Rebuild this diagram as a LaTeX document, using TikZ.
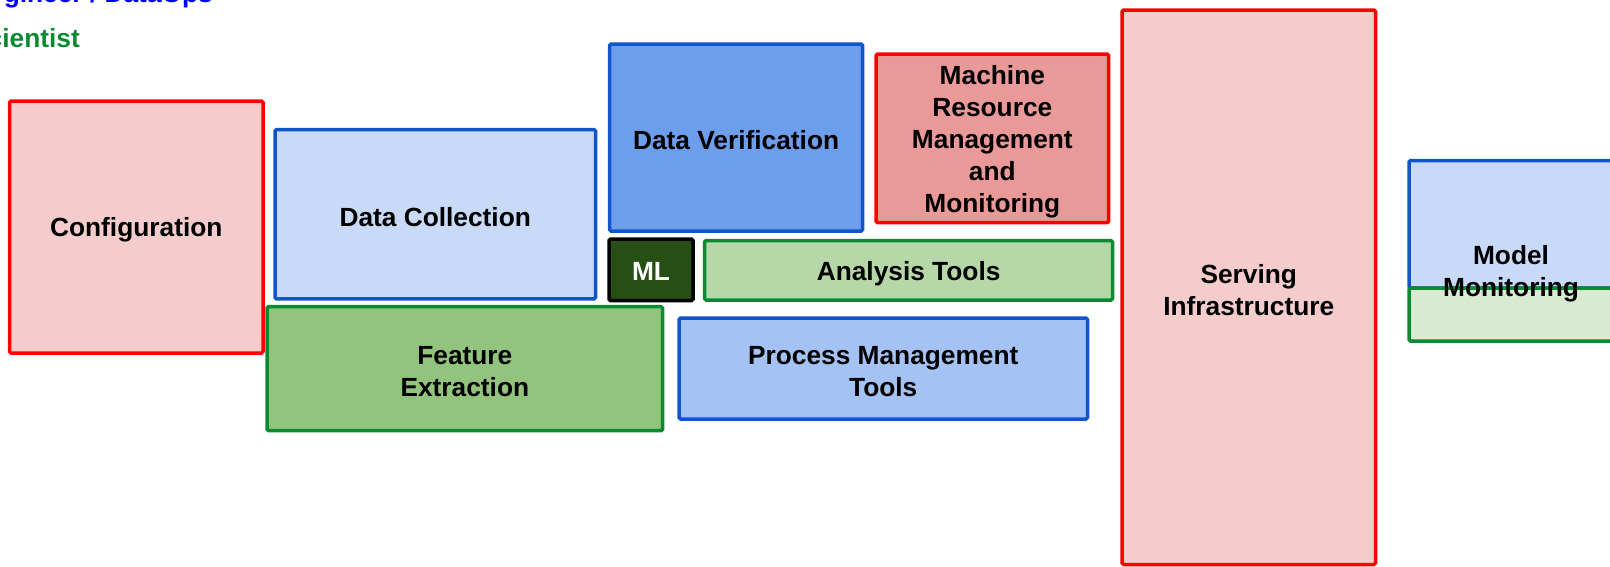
\documentclass[tikz,border=0pt]{standalone}
\usepackage{fontspec}
\setmainfont{Liberation Sans}
\definecolor{redline}{HTML}{FF0000}
\definecolor{blueline}{HTML}{1155CC}
\definecolor{greenline}{HTML}{0B8A32}
\definecolor{paleRed}{HTML}{F4CCCC}
\definecolor{midRed}{HTML}{EA9999}
\definecolor{paleBlue}{HTML}{C9DAF8}
\definecolor{lightBlue}{HTML}{A4C2F4}
\definecolor{midBlue}{HTML}{6D9EEB}
\definecolor{paleGreen}{HTML}{D9EAD3}
\definecolor{lightGreen}{HTML}{B6D7A8}
\definecolor{midGreen}{HTML}{93C47D}
\definecolor{darkGreen}{HTML}{274E13}
\definecolor{roleBlue}{HTML}{0000FF}
\begin{document}
\begin{tikzpicture}[x=1pt,y=-1pt,
  box/.style={rectangle, rounded corners=1.5pt, line width=3.5pt, inner sep=0pt},
  redbox/.style={box, draw=redline},
  bluebox/.style={box, draw=blueline},
  greenbox/.style={box, draw=greenline},
  lbl/.style={inner sep=0pt, align=center, text=black,
    font=\fontsize{26.3}{32}\selectfont\bfseries},
  role/.style={anchor=base east, inner sep=0pt, font=\fontsize{26.3}{32}\selectfont\bfseries}]
\useasboundingbox (0,0) rectangle (1610,566);
\clip (0,0) rectangle (1610,566);

% role legend
\node[role, text=roleBlue] (roleEng) at (213,2) {gineer / DataOps};
\node[role, text=greenline] (roleSci) at (80,47) {cientist};

% pipeline components
\node[redbox, fill=paleRed, minimum width=253.5pt, minimum height=252pt] (config) at (136.25,227) {};
\node[bluebox, fill=paleBlue, minimum width=320.5pt, minimum height=169.3pt] (collect) at (435.25,214.15) {};
\node[greenbox, fill=midGreen, minimum width=395.7pt, minimum height=124pt] (feature) at (464.85,368.7) {};
\node[bluebox, fill=midBlue, minimum width=253.2pt, minimum height=187pt] (verify) at (736.1,137.5) {};
\node[box, draw=black, fill=darkGreen, minimum width=84pt, minimum height=61.7pt] (ml) at (651,269.85) {};
\node[greenbox, fill=lightGreen, minimum width=408.2pt, minimum height=59.3pt] (analysis) at (908.6,270.35) {};
\node[bluebox, fill=lightBlue, minimum width=408.5pt, minimum height=101pt] (process) at (883.25,368.5) {};
\node[redbox, fill=midRed, minimum width=232.7pt, minimum height=168.7pt] (machine) at (992.35,138.35) {};
\node[redbox, fill=paleRed, minimum width=253.5pt, minimum height=554.5pt] (serving) at (1248.75,287.25) {};

% model monitoring split box
\node[bluebox, fill=paleBlue, minimum width=205pt, minimum height=127.5pt] (monBlue) at (1511.5,224.25) {};
\node[greenbox, fill=paleGreen, minimum width=205pt, minimum height=53pt] (monGreen) at (1511.5,314.5) {};

% component labels
\node[lbl] (configText) at ([yshift=-3pt]config.center) {Configuration};
\node[lbl] (collectText) at ([yshift=-3pt]collect.center) {Data Collection};
\node[lbl] (featureText) at ([yshift=-3pt]feature.center) {Feature\\Extraction};
\node[lbl] (verifyText) at ([yshift=-3pt]verify.center) {Data Verification};
\node[lbl, text=white] (mlText) at ([yshift=-2pt]ml.center) {ML};
\node[lbl] (analysisText) at ([yshift=-3pt]analysis.center) {Analysis Tools};
\node[lbl] (processText) at ([yshift=-3pt]process.center) {Process Management\\Tools};
\node[lbl] (machineText) at ([yshift=-3pt]machine.center) {Machine\\Resource\\Management\\and\\Monitoring};
\node[lbl] (servingText) at ([yshift=-3pt]serving.center) {Serving\\Infrastructure};
\node[lbl] (monText) at (1511,274) {Model\\Monitoring};
\end{tikzpicture}
\end{document}
